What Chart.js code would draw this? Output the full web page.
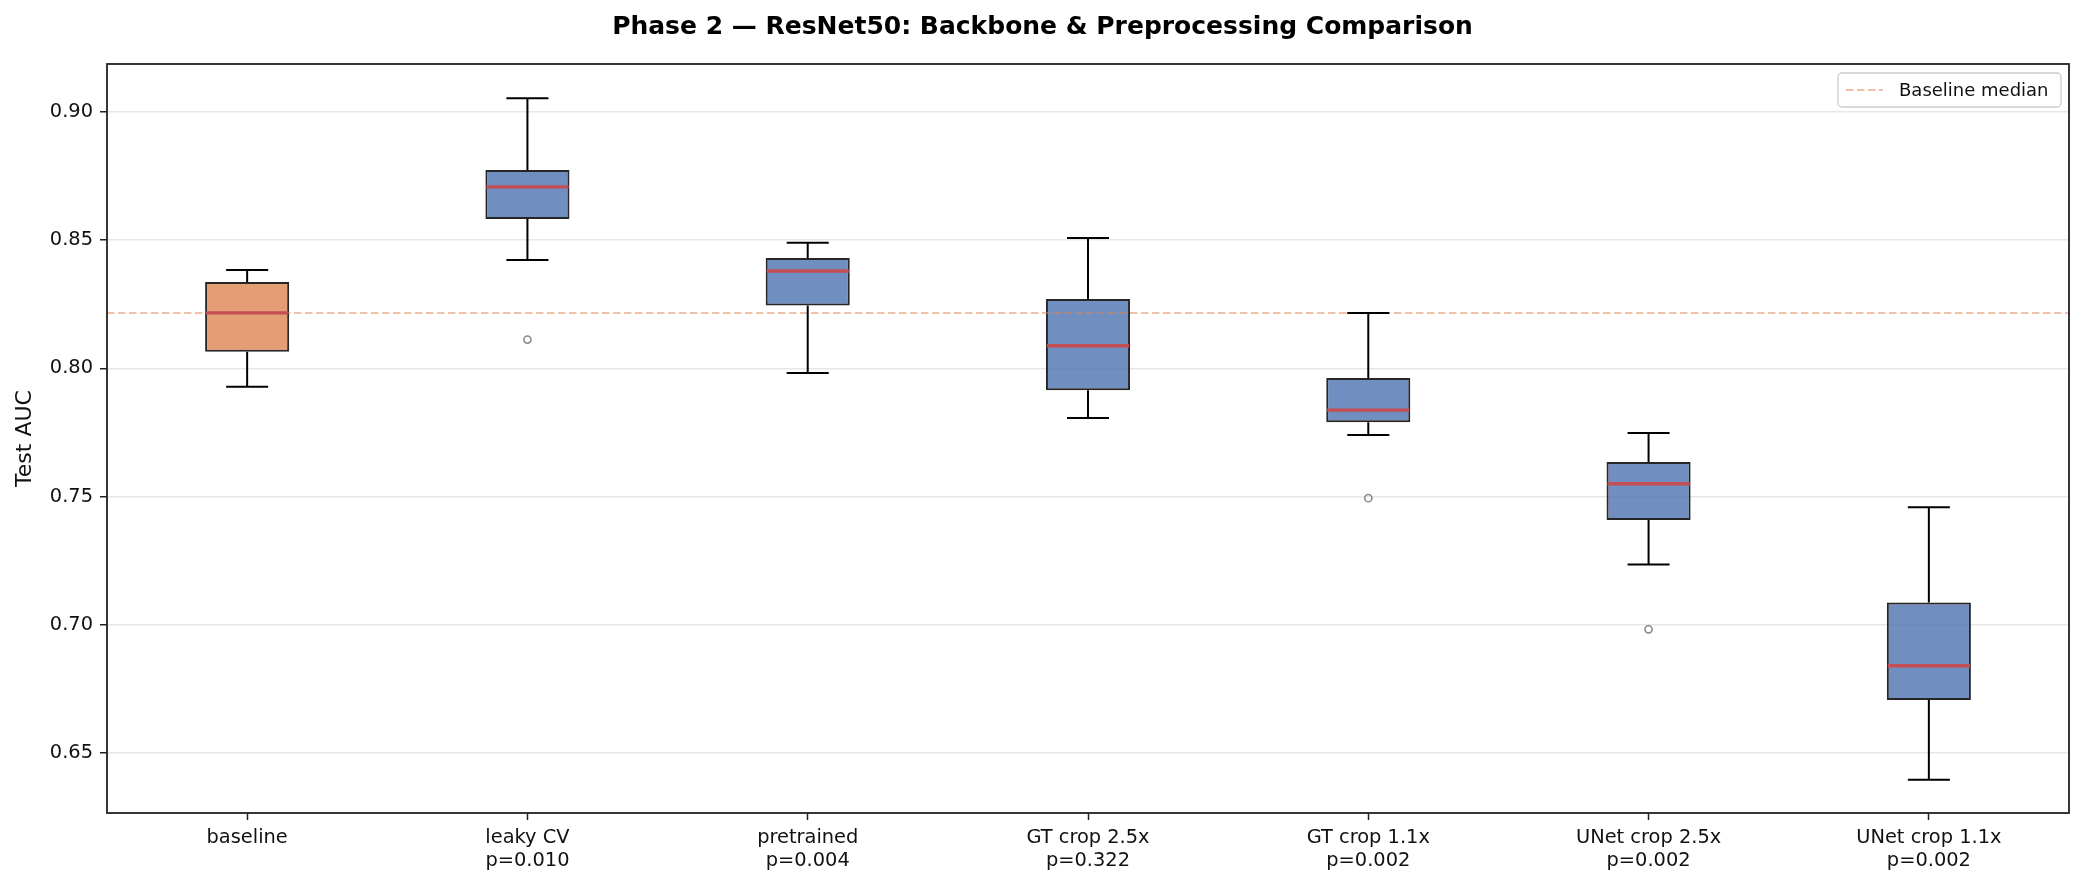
<!DOCTYPE html>
<html>
<head>
<meta charset="utf-8">
<script src="https://cdn.jsdelivr.net/npm/chart.js@4.4.1/dist/chart.umd.min.js"></script>
<style>
  html, body { margin: 0; padding: 0; background: #ffffff; }
  #wrap { width: 2085px; height: 887px; position: relative; }
</style>
</head>
<body>
<div id="wrap"><canvas id="c" width="2085" height="887"></canvas></div>
<script>
// ---- data ----
const categories = [
  ['baseline'],
  ['leaky CV', 'p=0.010'],
  ['pretrained', 'p=0.004'],
  ['GT crop 2.5x', 'p=0.322'],
  ['GT crop 1.1x', 'p=0.002'],
  ['UNet crop 2.5x', 'p=0.002'],
  ['UNet crop 1.1x', 'p=0.002']
];
const whiskerLow  = [0.7928, 0.8422, 0.7982, 0.7806, 0.7740, 0.7235, 0.6397];
const q1          = [0.8065, 0.8582, 0.8245, 0.7915, 0.7790, 0.7409, 0.6707];
const medians     = [0.8216, 0.8707, 0.8379, 0.8088, 0.7837, 0.7550, 0.6841];
const q3          = [0.8336, 0.8773, 0.8430, 0.8270, 0.7962, 0.7635, 0.7087];
const whiskerHigh = [0.8383, 0.9053, 0.8489, 0.8508, 0.8216, 0.7748, 0.7459];
const outliers    = [[], [0.8112], [], [], [0.7494], [0.6983], []];
const baselineMedian = medians[0];
const yTicks = [0.65, 0.70, 0.75, 0.80, 0.85, 0.90];
const yMin = 0.6267, yMax = 0.9186;

const boxColors = categories.map((c, i) => i === 0 ? 'rgba(221,132,82,0.8)' : 'rgba(76,114,176,0.8)');
const FONT = '"DejaVu Sans", "Liberation Sans", sans-serif';

const boxPlugin = {
  id: 'boxExtras',
  afterDatasetsDraw(chart) {
    const { ctx, chartArea, scales: { x, y } } = chart;
    const meta = chart.getDatasetMeta(0);
    ctx.save();
    // baseline median dashed line
    const by = y.getPixelForValue(baselineMedian);
    ctx.strokeStyle = 'rgba(221,132,82,0.5)';
    ctx.lineWidth = 2;
    ctx.setLineDash([7.5, 3.5]);
    ctx.beginPath();
    ctx.moveTo(chartArea.left, by);
    ctx.lineTo(chartArea.right, by);
    ctx.stroke();
    ctx.setLineDash([]);

    categories.forEach((c, i) => {
      const bar = meta.data[i];
      const cx = x.getPixelForValue(i);
      const half = bar.width / 2;
      const capHalf = half / 2;
      ctx.strokeStyle = '#000000';
      ctx.lineWidth = 2;
      // whiskers
      ctx.beginPath();
      ctx.moveTo(cx, y.getPixelForValue(q3[i]));
      ctx.lineTo(cx, y.getPixelForValue(whiskerHigh[i]));
      ctx.moveTo(cx, y.getPixelForValue(q1[i]));
      ctx.lineTo(cx, y.getPixelForValue(whiskerLow[i]));
      // caps
      const yh = y.getPixelForValue(whiskerHigh[i]);
      const yl = y.getPixelForValue(whiskerLow[i]);
      ctx.moveTo(cx - capHalf, yh); ctx.lineTo(cx + capHalf, yh);
      ctx.moveTo(cx - capHalf, yl); ctx.lineTo(cx + capHalf, yl);
      ctx.stroke();
      // median
      const ym = y.getPixelForValue(medians[i]);
      ctx.strokeStyle = '#C44E52';
      ctx.lineWidth = 3.4;
      ctx.beginPath();
      ctx.moveTo(cx - half + 1, ym);
      ctx.lineTo(cx + half - 1, ym);
      ctx.stroke();
      // outliers
      ctx.strokeStyle = 'rgba(100,100,100,0.75)';
      ctx.lineWidth = 1.6;
      outliers[i].forEach(v => {
        ctx.beginPath();
        ctx.arc(cx, y.getPixelForValue(v), 3.6, 0, Math.PI * 2);
        ctx.stroke();
      });
    });

    // frame (spines)
    ctx.strokeStyle = '#222222';
    ctx.lineWidth = 1.8;
    ctx.strokeRect(chartArea.left, chartArea.top, chartArea.right - chartArea.left, chartArea.bottom - chartArea.top);

    // legend (upper right, inside axes)
    const lw = 223, lh = 34;
    const lx = chartArea.right - 8 - lw, ly = chartArea.top + 9;
    ctx.fillStyle = 'rgba(255,255,255,0.85)';
    ctx.strokeStyle = '#cccccc';
    ctx.lineWidth = 1.3;
    ctx.beginPath();
    ctx.roundRect(lx, ly, lw, lh, 4);
    ctx.fill();
    ctx.stroke();
    ctx.strokeStyle = 'rgba(221,132,82,0.5)';
    ctx.lineWidth = 2;
    ctx.setLineDash([7.5, 3.5]);
    ctx.beginPath();
    ctx.moveTo(lx + 8, ly + lh / 2);
    ctx.lineTo(lx + 45, ly + lh / 2);
    ctx.stroke();
    ctx.setLineDash([]);
    ctx.fillStyle = '#111111';
    ctx.font = '18px ' + FONT;
    ctx.textBaseline = 'middle';
    ctx.textAlign = 'left';
    ctx.fillText('Baseline median', lx + 61, ly + lh / 2 + 1);
    ctx.restore();
  }
};

new Chart(document.getElementById('c'), {
  type: 'bar',
  data: {
    labels: categories,
    datasets: [{
      label: 'Test AUC',
      data: categories.map((c, i) => [q1[i], q3[i]]),
      backgroundColor: boxColors,
      borderColor: '#262626',
      borderWidth: 2,
      borderSkipped: false,
      barPercentage: 0.3,
      categoryPercentage: 1.0
    }]
  },
  options: {
    responsive: false,
    devicePixelRatio: 1,
    animation: false,
    layout: { padding: { left: 16, right: 16, top: 0, bottom: 0 } },
    plugins: {
      legend: { display: false },
      tooltip: { enabled: false },
      title: {
        display: true,
        text: 'Phase 2 \u2014 ResNet50: Backbone & Preprocessing Comparison',
        color: '#000000',
        font: { family: FONT, size: 25, weight: 'bold', lineHeight: 1.2 },
        padding: { top: 12, bottom: 22 }
      }
    },
    scales: {
      x: {
        grid: { display: true, drawOnChartArea: false, drawTicks: true, tickLength: 7, tickColor: '#222222', tickWidth: 1.5, offset: false },
        border: { display: false },
        ticks: { color: '#111111', font: { family: FONT, size: 19.4, lineHeight: 1.2 }, padding: 6, maxRotation: 0, autoSkip: false },
        afterFit(scale) { scale.height = 74; }
      },
      y: {
        min: yMin, max: yMax,
        afterBuildTicks(scale) { scale.ticks = yTicks.map(v => ({ value: v })); },
        grid: { color: '#e7e7e7', lineWidth: 1.5, drawTicks: true, tickLength: 7, tickColor: '#222222', tickWidth: 1.5 },
        border: { display: false },
        ticks: { color: '#111111', font: { family: FONT, size: 19.4 }, padding: 7, callback: v => Number(v).toFixed(2) },
        title: { display: true, text: 'Test AUC', color: '#111111', font: { family: FONT, size: 22 }, padding: { top: -4, bottom: 0 } },
        afterFit(scale) { scale.width = 91; }
      }
    }
  },
  plugins: [boxPlugin]
});
</script>
</body>
</html>
